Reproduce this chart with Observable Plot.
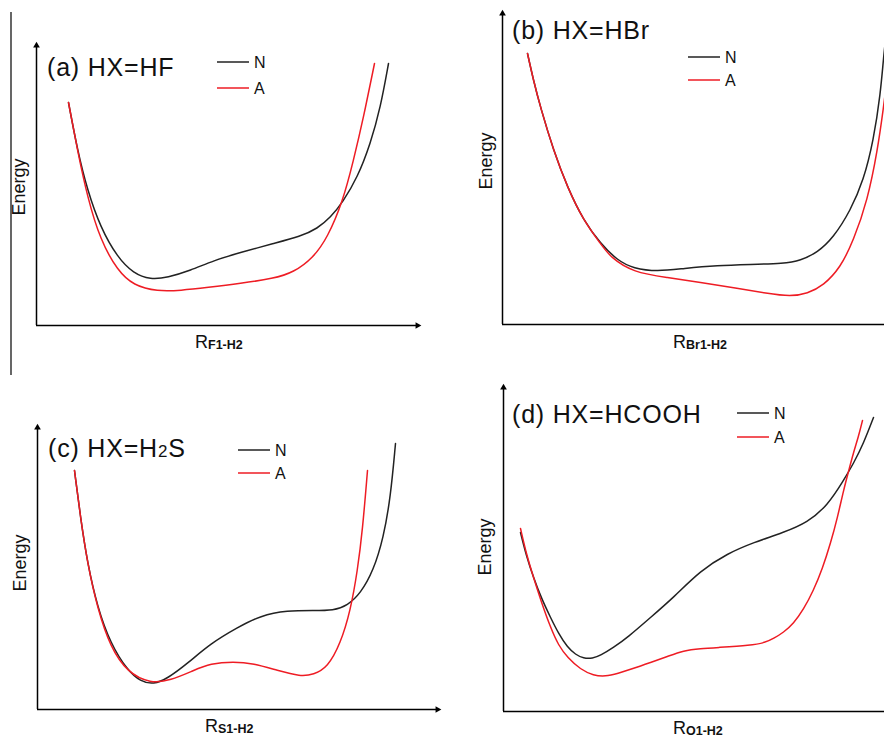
<!DOCTYPE html>
<html><head><meta charset="utf-8">
<script src="https://cdn.jsdelivr.net/npm/d3@7"></script>
<script src="https://cdn.jsdelivr.net/npm/@observablehq/plot@0.6"></script>
<style>
body{margin:0;background:#fff}
#wrap{position:relative;width:884px;height:737px;overflow:hidden;background:#fff;font-family:"Liberation Sans",Arial,sans-serif}
.panel{position:absolute}
.panel svg{overflow:visible;max-width:none !important}
#overlay{position:absolute;left:0;top:0}
</style></head><body><div id="wrap"></div>
<script>
// ---- data (arbitrary units) ----
const seriesNames = ["N", "A"];
const seriesColors = ["#222222", "#ee1c24"];

// (a) HX=HF
const hfN_r = [3.2,4.1,5.1,6.4,8.1,9.7,11.4,13.1,15.4,17.7,20.4,23.7,26.4,28.1,29.4,30.6,32.1,33.4,34.4,35.2];
const hfN_e = [22.3,17.5,13.5,9.8,6.8,5.2,4.6,4.8,5.5,6.5,7.3,8.2,8.9,9.7,10.8,12.3,14.8,18.2,21.8,26.2];
const hfA_r = [3.2,4.1,5.1,6.4,8.1,9.7,12.1,14.4,17.1,20.4,23.7,25.7,27.7,29.1,30.6,31.7,32.7,33.8];
const hfA_e = [22.3,17.5,12.8,8.5,5.5,4.0,3.4,3.5,3.8,4.2,4.7,5.3,6.8,8.8,12.3,16.5,20.8,26.2];

// (b) HX=HBr
const hbrN_r = [2.5,3.1,3.8,5.1,6.5,8.1,9.8,11.5,13.1,15.5,18.1,21.5,24.8,28.1,29.8,31.5,33.1,34.8,36.1,37.1,37.8,38.1,38.4];
const hbrN_e = [27.1,24.4,21.7,17.4,13.7,10.4,8.1,6.4,5.6,5.3,5.6,5.9,6.0,6.1,6.4,7.2,8.7,11.4,14.4,18.4,23.1,26.7,29.4];
const hbrA_r = [2.5,3.1,3.8,5.1,6.5,8.1,9.8,10.8,13.1,16.5,19.8,23.1,26.5,28.8,30.5,32.1,33.8,35.1,36.5,37.5,38.1,38.5];
const hbrA_e = [27.1,24.4,21.7,17.4,13.7,10.4,8.1,6.7,5.2,4.7,4.2,3.7,3.1,2.8,3.1,3.9,5.7,8.4,12.4,17.4,21.7,24.9];

// (c) HX=H2S
const h2sN_r = [3.7,4.3,5.0,6.0,7.3,9.0,10.3,11.6,13.0,15.0,17.3,20.0,22.3,25.0,27.6,29.6,31.0,32.3,33.6,34.6,35.3,35.8];
const h2sN_e = [23.9,19.2,14.6,10.2,6.6,3.9,2.8,2.5,3.1,4.6,6.6,8.2,9.4,9.9,9.9,9.9,10.4,11.6,13.9,17.2,21.2,26.6];
const h2sA_r = [3.7,4.3,5.0,6.0,7.3,9.0,11.3,13.3,15.6,17.3,19.6,21.6,24.0,26.3,27.6,29.0,30.3,31.3,32.0,32.5,33.0];
const h2sA_e = [23.9,19.2,14.6,10.1,6.2,3.7,2.6,2.9,3.9,4.6,4.8,4.6,3.9,3.3,3.5,4.2,6.6,9.9,13.9,17.9,23.9];

// (d) HX=HCOOH
const hcoohN_r = [1.7,2.3,3.0,3.8,4.7,5.5,6.4,7.2,8.0,8.9,9.7,11.0,12.4,14.7,17.0,19.7,22.4,25.0,28.0,30.4,32.4,34.0,35.0,36.0,37.0];
const hcoohN_e = [17.9,15.5,13.4,11.3,9.4,7.8,6.4,5.7,5.3,5.3,5.6,6.4,7.4,9.4,11.4,14.1,15.8,16.9,17.9,18.9,20.6,23.1,24.8,26.8,29.4];
const hcoohA_r = [1.7,2.3,3.0,3.8,4.7,5.5,6.4,7.7,9.0,10.2,11.4,13.0,14.7,16.4,18.0,19.7,21.4,24.7,26.2,27.0,28.0,29.0,30.0,31.0,31.9,32.7,33.4,34.0,34.5,35.0,35.5,35.9];
const hcoohA_e = [18.3,15.7,13.4,10.9,8.4,6.6,5.4,4.2,3.6,3.5,3.8,4.3,4.9,5.5,6.1,6.3,6.4,6.6,6.9,7.3,7.9,8.8,10.2,12.1,14.3,16.8,19.4,22.1,24.0,25.9,27.5,29.1];

// text
const titles = [
  [["(a) HX=HF", 0]],
  [["(b) HX=HBr", 0]],
  [["(c) HX=H", 0], ["2", 1], ["S", 0]],
  [["(d) HX=HCOOH", 0]]
];
const yLabel = "Energy";
const xLabelMain = "R";
const xLabelSubs = ["F1-H2", "Br1-H2", "S1-H2", "O1-H2"];

// ---- layout ----
const panels = [
  {N: [hfN_r, hfN_e], A: [hfA_r, hfA_e], left: 0, top: 0, width: 442, height: 370, ml: 36, mr: 25, mt: 45, mb: 45, xmax: 38.1, ymax: 28.0,
   title: [47, 76], leg: [217, 62, 88], ylab: [25, 187], xlab: [195, 348]},
  {N: [hbrN_r, hbrN_e], A: [hbrA_r, hbrA_e], left: 442, top: 0, width: 473, height: 370, ml: 60, mr: 10, mt: 13, mb: 46, xmax: 40.3, ymax: 31.1,
   title: [512, 39], leg: [688, 57, 80], ylab: [492, 161], xlab: [673, 348]},
  {N: [h2sN_r, h2sN_e], A: [h2sA_r, h2sA_e], left: 0, top: 370, width: 442, height: 367, ml: 37, mr: 5, mt: 57, mb: 28, xmax: 40.0, ymax: 28.2,
   title: [48, 457], leg: [238, 450, 473], ylab: [26, 563], xlab: [205, 732]},
  {N: [hcoohN_r, hcoohN_e], A: [hcoohA_r, hcoohA_e], left: 442, top: 370, width: 473, height: 367, ml: 61, mr: 10, mt: 17, mb: 26, xmax: 40.2, ymax: 32.4,
   title: [512, 423], leg: [737, 413, 437], ylab: [491, 547], xlab: [673, 734]}
];

const wrap = document.getElementById("wrap");

panels.forEach((p) => {
  const rows = [];
  [p.N, p.A].forEach(([rs, es], si) => rs.forEach((r, i) => rows.push({s: seriesNames[si], r, e: es[i]})));
  const chart = Plot.plot({
    width: p.width, height: p.height,
    marginLeft: p.ml, marginRight: p.mr, marginTop: p.mt, marginBottom: p.mb,
    x: {domain: [0, p.xmax], axis: null},
    y: {domain: [0, p.ymax], axis: null},
    color: {domain: seriesNames, range: seriesColors},
    style: {background: "transparent", overflow: "visible", maxWidth: "none"},
    marks: [
      Plot.ruleY([0], {stroke: "#000", strokeWidth: 1.5}),
      Plot.ruleX([0], {stroke: "#000", strokeWidth: 1.5}),
      Plot.dot([{x: p.xmax, y: 0}], {x: "x", y: "y", symbol: "triangle2", rotate: 90, r: 3.2, fill: "#000", stroke: null}),
      Plot.dot([{x: 0, y: p.ymax}], {x: "x", y: "y", symbol: "triangle2", r: 3.2, fill: "#000", stroke: null}),
      Plot.line(rows, {x: "r", y: "e", z: "s", stroke: "s", strokeWidth: 1.5, curve: "basis"})
    ]
  });
  const div = document.createElement("div");
  div.className = "panel";
  div.style.left = p.left + "px";
  div.style.top = p.top + "px";
  div.style.width = p.width + "px";
  div.style.height = p.height + "px";
  div.appendChild(chart);
  wrap.appendChild(div);
});

// ---- overlay text ----
const svg = d3.select(wrap).append("svg").attr("id", "overlay")
  .attr("width", 884).attr("height", 737)
  .style("font-family", '"Liberation Sans", Arial, sans-serif');

// stray left border line of the original figure
svg.append("line").attr("x1", 11).attr("x2", 11).attr("y1", 12).attr("y2", 375)
  .attr("stroke", "#000").attr("stroke-width", 1.2);

panels.forEach((p, k) => {
  // title
  const t = svg.append("text").attr("x", p.title[0]).attr("y", p.title[1])
    .attr("font-size", 25).attr("letter-spacing", 0.8).attr("fill", "#111");
  titles[k].forEach(([s, sub]) => {
    const ts = t.append("tspan").text(s);
    if (sub) ts.attr("font-size", 17);
  });
  // legend
  seriesNames.forEach((n, i) => {
    const y = p.leg[1 + i];
    svg.append("line").attr("x1", p.leg[0]).attr("x2", p.leg[0] + 32).attr("y1", y).attr("y2", y)
      .attr("stroke", seriesColors[i]).attr("stroke-width", 1.5);
    svg.append("text").attr("x", p.leg[0] + 37).attr("y", y + 6).attr("font-size", 16).attr("fill", "#111").text(n);
  });
  // y label
  svg.append("text").attr("transform", `translate(${p.ylab[0]},${p.ylab[1]}) rotate(-90)`)
    .attr("text-anchor", "middle").attr("font-size", 18).attr("fill", "#111").text(yLabel);
  // x label
  const xl = svg.append("text").attr("x", p.xlab[0]).attr("y", p.xlab[1]).attr("fill", "#111");
  xl.append("tspan").attr("font-size", 18).text(xLabelMain);
  xl.append("tspan").attr("font-size", 12.5).attr("font-weight", "bold").attr("dy", 1).text(xLabelSubs[k]);
});
</script>
</body></html>
